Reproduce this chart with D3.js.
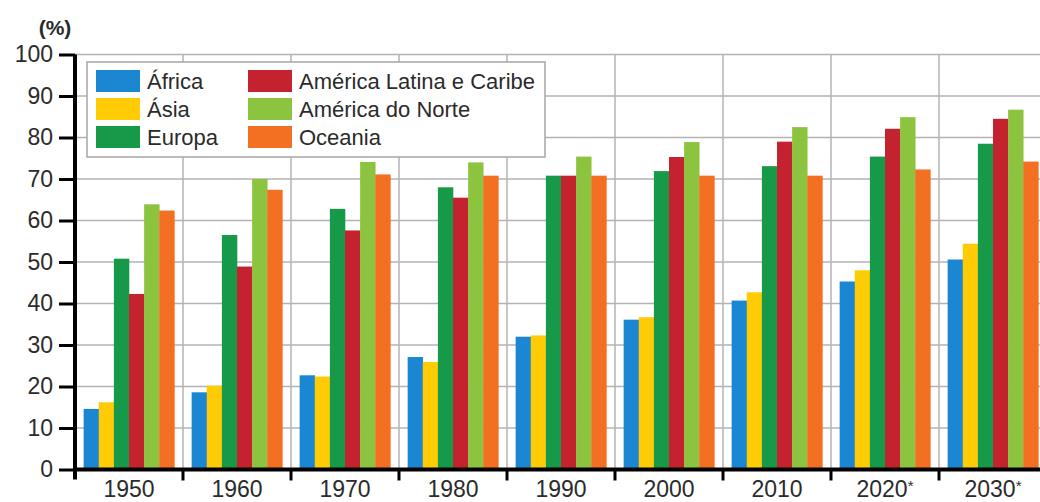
<!DOCTYPE html>
<html>
<head>
<meta charset="utf-8">
<script src="https://cdn.jsdelivr.net/npm/d3@7"></script>
<style>
  body { margin: 0; background: #fff; }
  svg { display: block; font-family: "Liberation Sans", Arial, sans-serif; }
</style>
</head>
<body>
<script>
// data (% urban population by region)
var years = ["1950", "1960", "1970", "1980", "1990", "2000", "2010", "2020*", "2030*"];
var regions = ["África", "Ásia", "Europa", "América Latina e Caribe", "América do Norte", "Oceania"];
var colors = ["#1b87d3", "#ffcb05", "#17994a", "#c4222f", "#8cc43f", "#f36f21"];

var africa   = [14.6, 18.6, 22.7, 27.1, 32.0, 36.1, 40.7, 45.3, 50.6];
var asia     = [16.2, 20.2, 22.4, 25.9, 32.3, 36.7, 42.7, 48.0, 54.4];
var europa   = [50.8, 56.5, 62.8, 68.0, 70.8, 71.9, 73.1, 75.4, 78.5];
var latina   = [42.3, 48.9, 57.6, 65.5, 70.8, 75.3, 79.0, 82.1, 84.5];
var norte    = [63.9, 70.0, 74.1, 74.0, 75.4, 78.9, 82.5, 84.9, 86.7];
var oceania  = [62.4, 67.4, 71.1, 70.8, 70.8, 70.8, 70.8, 72.3, 74.2];
var series = [africa, asia, europa, latina, norte, oceania];

var yTicks = [0, 10, 20, 30, 40, 50, 60, 70, 80, 90, 100];

var width = 1040, height = 502;
var plotLeft = 75, plotTop = 54.5, plotBottom = 469.5;
var groupW = 108;
var textCol = "#2b2b2b";

var svg = d3.select("body").append("svg")
    .attr("width", width)
    .attr("height", height);

var x0 = d3.scaleBand()
    .domain(years)
    .range([plotLeft, plotLeft + groupW * years.length])
    .paddingInner(0.16)
    .paddingOuter(0.08);

var x1 = d3.scaleBand()
    .domain(d3.range(regions.length))
    .range([0, x0.bandwidth()]);

var y = d3.scaleLinear()
    .domain([0, 100])
    .range([plotBottom, plotTop]);

var plotRight = plotLeft + groupW * years.length;
function sepX(d){ return x0(d) - x0.step() * 0.08; }

// grid
var grid = svg.append("g");
grid.selectAll("line.h")
  .data(yTicks.filter(function(d){ return d > 0; }))
  .enter().append("line")
    .attr("x1", plotLeft).attr("x2", plotRight)
    .attr("y1", function(d){ return y(d); })
    .attr("y2", function(d){ return y(d); })
    .attr("stroke", "#b3b3b3")
    .attr("stroke-width", 1.5);

grid.selectAll("line.v")
  .data(years.slice(1))
  .enter().append("line")
    .attr("x1", sepX).attr("x2", sepX)
    .attr("y1", plotTop).attr("y2", plotBottom)
    .attr("stroke", "#b3b3b3")
    .attr("stroke-width", 1.5);

// bars
var groups = svg.append("g").selectAll("g")
  .data(years)
  .enter().append("g")
    .attr("transform", function(d){ return "translate(" + x0(d) + ",0)"; });

groups.selectAll("rect")
  .data(function(d, i){ return series.map(function(s, k){ return {k: k, v: s[i]}; }); })
  .enter().append("rect")
    .attr("x", function(d){ return x1(d.k); })
    .attr("y", function(d){ return y(d.v); })
    .attr("width", x1.bandwidth() + 0.3)
    .attr("height", function(d){ return plotBottom - y(d.v); })
    .attr("fill", function(d){ return colors[d.k]; });

// y axis
var yAxis = svg.append("g")
    .attr("transform", "translate(" + plotLeft + ",0)")
    .call(d3.axisLeft(y).tickValues(yTicks).tickSize(16).tickPadding(6));
yAxis.select(".domain").attr("stroke", "#000").attr("stroke-width", 4)
    .attr("d", "M0," + plotTop + "V" + (plotBottom + 10));
yAxis.selectAll(".tick line").attr("stroke", "#000").attr("stroke-width", 3);
yAxis.selectAll(".tick text")
    .attr("font-size", 23).attr("fill", textCol)
    .attr("font-family", "Liberation Sans, Arial, sans-serif");

// x axis
var xAxis = svg.append("g")
    .attr("transform", "translate(0," + plotBottom + ")")
    .call(d3.axisBottom(x0).tickSize(0).tickPadding(11));
xAxis.select(".domain").remove();
xAxis.append("line")
    .attr("x1", plotLeft).attr("x2", plotRight)
    .attr("stroke", "#000").attr("stroke-width", 4);
xAxis.selectAll(".tick text")
    .attr("font-size", 23).attr("fill", textCol)
    .attr("font-family", "Liberation Sans, Arial, sans-serif")
    .each(function(d){
      var t = d3.select(this);
      if (d.indexOf("*") > -1) {
        t.text(d.replace("*", ""));
        t.append("tspan").attr("font-size", 15).attr("dy", -6).text("*");
      }
    });
xAxis.selectAll("line.sep")
  .data(years.slice(1))
  .enter().append("line")
    .attr("x1", sepX).attr("x2", sepX)
    .attr("y1", 0).attr("y2", 11)
    .attr("stroke", "#000").attr("stroke-width", 3);

// unit label
svg.append("text")
    .attr("x", 55).attr("y", 35)
    .attr("text-anchor", "middle")
    .attr("font-size", 21).attr("font-weight", "bold").attr("fill", textCol)
    .text("(%)");

// legend
var lg = svg.append("g").attr("transform", "translate(87,62)");
lg.append("rect")
    .attr("width", 458).attr("height", 95)
    .attr("fill", "#fff").attr("stroke", "#a6a6a6").attr("stroke-width", 1.5);

var items = lg.selectAll("g.item")
  .data(regions)
  .enter().append("g")
    .attr("transform", function(d, i){
      var col = Math.floor(i / 3), row = i % 3;
      return "translate(" + (9 + col * 152) + "," + (8 + row * 28) + ")";
    });
items.append("rect")
    .attr("width", 44).attr("height", 22)
    .attr("fill", function(d, i){ return colors[i]; });
items.append("text")
    .attr("x", 51).attr("y", 18.5)
    .attr("font-size", 22).attr("fill", textCol)
    .text(function(d){ return d; });
</script>
</body>
</html>
